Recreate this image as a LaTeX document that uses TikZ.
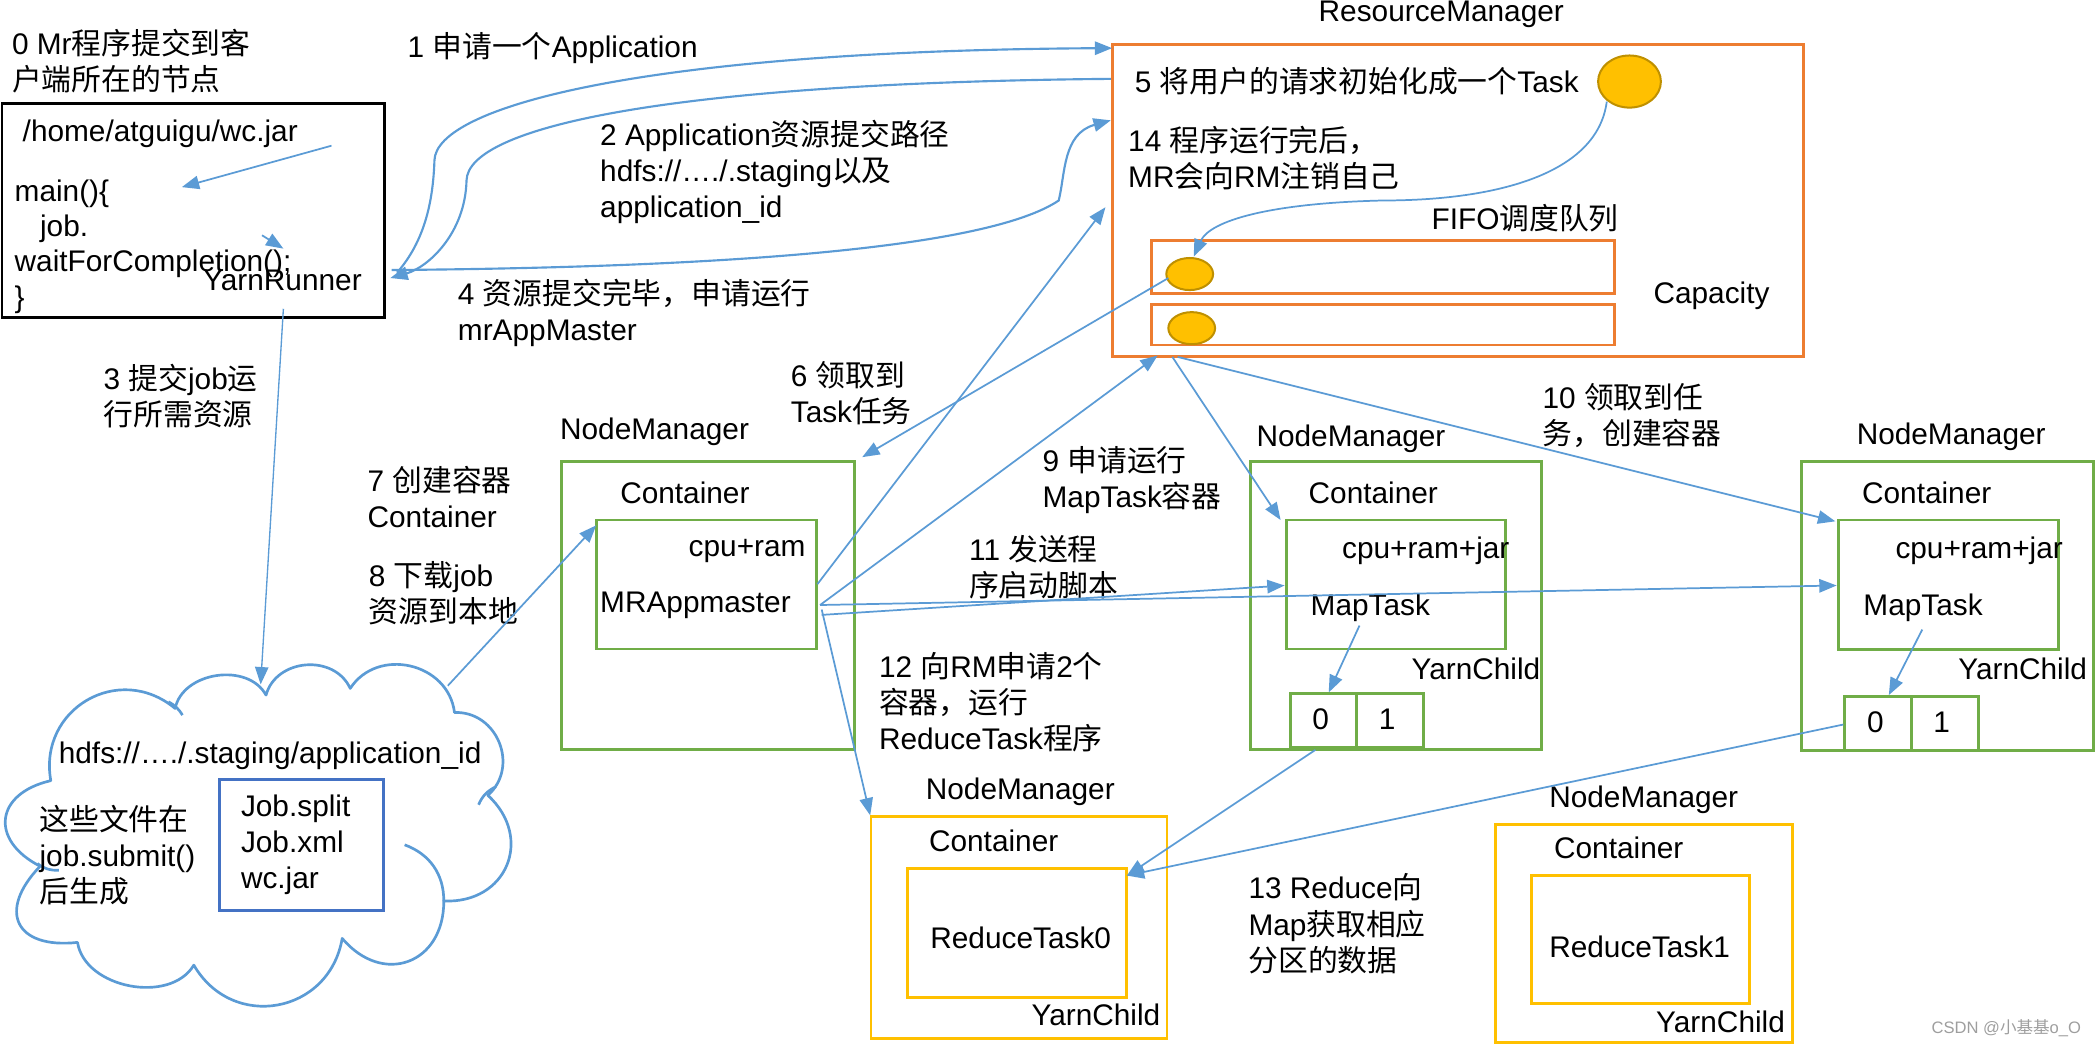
\documentclass[tikz,border=0pt]{standalone}
\usepackage{fontspec}
\setmainfont{Liberation Sans}
\newfontfamily\cjk{Noto Sans CJK SC}
\newcommand{\C}[1]{{\cjk #1}}
\usetikzlibrary{arrows.meta,shapes.geometric}
\definecolor{lblue}{HTML}{5B9BD5}
\definecolor{dblue}{HTML}{4472C4}
\definecolor{orng}{HTML}{ED7D31}
\definecolor{grn}{HTML}{70AD47}
\definecolor{ylw}{HTML}{FFC000}
\definecolor{gold}{HTML}{BF9000}
\begin{document}
\begin{tikzpicture}[x=1pt,y=-1pt,
  every node/.style={inner sep=0pt, outer sep=0pt},
  lbl/.style={anchor=west, align=left, font=\fontsize{22.3}{27}\selectfont},
  ctr/.style={font=\fontsize{22.3}{27}\selectfont},
  bx/.style={draw, anchor=north west, line width=2.2pt, inner sep=0pt},
  dot/.style={ellipse, draw=gold, fill=ylw, line width=1.5pt},
  arr/.style={draw=lblue, line width=1.3pt, -{Triangle[length=13pt,width=10pt]}},
  carr/.style={arr, line width=1.6pt},
  cloudline/.style={draw=lblue, line width=2pt, line join=round},
  puff/.style={bend left=70, looseness=#1}
]
\useasboundingbox (0,0) rectangle (1568,784);

% ---------- client ----------
\node[bx, draw=black, minimum width=286pt, minimum height=160pt] (client) at (1.5,77.5) {};
\node[lbl] (t0) at (9,45.5) {0 Mr\C{程序提交到客}\\\C{户端所在的节点}};
\node[lbl] (jar) at (17,100) {/home/atguigu/wc.jar};
\node[lbl] (mainl) at (11,145) {main()\{};
\node[lbl] (jobl) at (30,171) {job.};
\node[lbl] (waitl) at (11,197) {waitForCompletion();};
\node[lbl] (closel) at (11,224) {\}};
\node[lbl] (yr) at (152,210) {YarnRunner};

% ---------- resource manager ----------
\node[bx, draw=orng, minimum width=517pt, minimum height=234pt] (rm) at (832,33) {};
\node[lbl] (rml) at (986.5,11) {ResourceManager};
\node[lbl] (t5) at (849,61) {5 \C{将用户的请求初始化成一个}Task};
\node[dot, minimum width=47pt, minimum height=39pt] (task) at (1219,61) {};
\node[lbl] (t14) at (844,118.5) {14 \C{程序运行完后，}\\MR\C{会向}RM\C{注销自己}};
\node[lbl] (fifo) at (1071,163) {FIFO\C{调度队列}};
\node[bx, draw=orng, line width=2pt, minimum width=346.5pt, minimum height=39.5pt] (q1) at (861.5,180) {};
\node[bx, draw=orng, line width=2pt, minimum width=346.5pt, minimum height=30pt] (q2) at (861.5,228) {};
\node[dot, minimum width=35pt, minimum height=24pt] (d1) at (890,205) {};
\node[dot, minimum width=35pt, minimum height=24pt] (d2) at (891.5,245.5) {};
\node[lbl] (cap) at (1237,221) {Capacity};

% ---------- NodeManager 1 ----------
\node[lbl] (nm1l) at (419,323) {NodeManager};
\node[bx, draw=grn, minimum width=219pt, minimum height=216pt] (nm1) at (420,345) {};
\node[lbl] (c1l) at (464,369) {Container};
\node[bx, draw=grn, minimum width=164.5pt, minimum height=96.5pt] (am) at (446.5,389) {};
\node[ctr, anchor=east] (cr1) at (602.6,412) {cpu+ram};
\node[lbl] (mra) at (449,453) {MRAppmaster};

% ---------- NodeManager 2 ----------
\node[lbl] (nm2l) at (940,328) {NodeManager};
\node[bx, draw=grn, minimum width=217.5pt, minimum height=216pt] (nm2) at (935.5,345) {};
\node[lbl] (c2l) at (979,369) {Container};
\node[bx, draw=grn, minimum width=164pt, minimum height=96.5pt] (mt1) at (962.5,389) {};
\node[lbl] (cr2) at (1004,412) {cpu+ram+jar};
\node[lbl] (mt1l) at (980.5,455) {MapTask};
\node[lbl] (yc1) at (1056,500) {YarnChild};
\node[bx, draw=grn, minimum width=49.5pt, minimum height=40pt] (p10) at (965.5,519) {};
\node[bx, draw=grn, minimum width=50pt, minimum height=40pt] (p11) at (1015,519) {};
\node[ctr] (p10l) at (988,538) {0};
\node[ctr] (p11l) at (1037.7,538) {1};

% ---------- NodeManager 3 ----------
\node[lbl] (nm3l) at (1389,326.7) {NodeManager};
\node[bx, draw=grn, minimum width=218pt, minimum height=216pt] (nm3) at (1348,345.4) {};
\node[lbl] (c3l) at (1393,369) {Container};
\node[bx, draw=grn, minimum width=164.6pt, minimum height=97pt] (mt2) at (1375,389) {};
\node[lbl] (cr3) at (1418,412) {cpu+ram+jar};
\node[lbl] (mt2l) at (1394,455) {MapTask};
\node[lbl] (yc2) at (1465,500) {YarnChild};
\node[bx, draw=grn, minimum width=50pt, minimum height=41pt] (p20) at (1380,520.7) {};
\node[bx, draw=grn, minimum width=50pt, minimum height=41pt] (p21) at (1430,520.7) {};
\node[ctr] (p20l) at (1403,540) {0};
\node[ctr] (p21l) at (1452.6,540) {1};

% ---------- Reduce NodeManagers ----------
\node[lbl] (rn1l) at (692.6,592) {NodeManager};
\node[bx, draw=ylw, minimum width=221.4pt, minimum height=166pt] (rn1) at (651.6,611) {};
\node[lbl] (rc1l) at (695,629) {Container};
\node[bx, draw=ylw, minimum width=163.8pt, minimum height=96.6pt] (rt0) at (678.6,649.4) {};
\node[lbl] (rt0l) at (696,701.7) {ReduceTask0};
\node[ctr, anchor=east] (yc3) at (868,759) {YarnChild};

\node[lbl] (rn2l) at (1159,598) {NodeManager};
\node[bx, draw=ylw, minimum width=222pt, minimum height=163pt] (rn2) at (1119,617) {};
\node[lbl] (rc2l) at (1162.6,634) {Container};
\node[bx, draw=ylw, minimum width=163.5pt, minimum height=96pt] (rt1) at (1145.5,655) {};
\node[lbl] (rt1l) at (1159,708) {ReduceTask1};
\node[lbl] (yc4) at (1239,764.6) {YarnChild};

% ---------- cloud (HDFS staging area) ----------
\coordinate (cloud) at (194,625);
\draw[cloudline] (38,584) to[puff=1.3] (131,530) to[puff=1.05] (199,520)
  to[puff=1.16] (262,515) to[puff=1.2] (340,533) to[puff=1.23] (365,595)
  to[puff=1.41] (332,674) to[puff=1.49] (256,702) to[puff=1.3] (145,722)
  to[puff=1.0] (58,705) to[puff=1.88] (30,648) to[puff=1.7] cycle;
\draw[cloudline] (302.7,632) to[bend left=35] (332,674);
\draw[cloudline] (358,602) to[bend left=20] (371,588.5);
\draw[cloudline] (28,646) to[bend right=20] (44,651);
\draw[cloudline] (126,525) to[bend left=15] (136.5,535);
\node[lbl] (hdfs) at (44,565.5) {hdfs://…./.staging/application\_id};
\node[lbl] (files) at (29.6,640) {\C{这些文件在}\\job.submit()\\\C{后生成}};
\node[bx, draw=dblue, minimum width=122.6pt, minimum height=98pt] (jobbox) at (164,583) {};
\node[lbl] (jobs) at (180.3,632) {Job.split\\Job.xml\\wc.jar};

% ---------- step labels ----------
\node[lbl] (t1) at (305,36) {1 \C{申请一个}Application};
\node[lbl] (t2) at (449,128.4) {2 Application\C{资源提交路径}\\hdfs://…./.staging\C{以及}\\application\_id};
\node[lbl] (t4) at (342.6,234.4) {4 \C{资源提交完毕，申请运行}\\mrAppMaster};
\node[lbl] (t3) at (77.5,296) {3 \C{提交}job\C{运}\\\C{行所需资源}};
\node[lbl] (t6) at (591.6,294.3) {6 \C{领取到}\\Task\C{任务}};
\node[lbl] (t7) at (275,372) {7 \C{创建容器}\\Container};
\node[lbl] (t8) at (276,444) {8 \C{下载}job\\\C{资源到本地}};
\node[lbl] (t9) at (780,359) {9 \C{申请运行}\\MapTask\C{容器}};
\node[lbl] (t10) at (1154,311) {10 \C{领取到任}\\\C{务，创建容器}};
\node[lbl] (t11) at (725,424.3) {11 \C{发送程}\\\C{序启动脚本}};
\node[lbl] (t12) at (657.6,525) {12 \C{向}RM\C{申请}2\C{个}\\\C{容器，运行}\\ReduceTask\C{程序}};
\node[lbl] (t13) at (934,691) {13 Reduce\C{向}\\Map\C{获取相应}\\\C{分区的数据}};
\node[anchor=west, font=\fontsize{12.4}{14}\selectfont, text=black!38] (wm) at (1445,769) {CSDN @\C{小基基}o\_O};

% ---------- connector end points ----------
\coordinate (ia1) at (248,109);  \coordinate (ia2) at (136,140);
\coordinate (sa1) at (196,176);  \coordinate (sa2) at (212,186);
\coordinate (a3s) at (212,231);  \coordinate (a3e) at (195,512);
\coordinate (a1s) at (297,204);  \coordinate (a1e) at (832,36);
\coordinate (a2s) at (831,59);   \coordinate (a2e) at (292,208);
\coordinate (a4s) at (293,202);  \coordinate (a4e) at (831,90);
\coordinate (a5s) at (1202,76);  \coordinate (a5e) at (893,192);
\coordinate (a6s) at (874,208);  \coordinate (a6e) at (645,342);
\coordinate (m1) at (611.5,437); \coordinate (a14e) at (827,155);
\coordinate (m2) at (613.5,452.6); \coordinate (a9e) at (866,266);
\coordinate (m3) at (614.7,460); \coordinate (m4) at (614.7,456);
\coordinate (r1) at (877,267);   \coordinate (r2) at (881,267);
\coordinate (n2e) at (958,389);  \coordinate (a10e) at (1373,390);
\coordinate (a11a) at (961,438); \coordinate (a11b) at (1374,438);
\coordinate (a12e) at (651,610);
\coordinate (a8s) at (335,513);  \coordinate (a8e) at (446,393);
\coordinate (k1s) at (1017,468); \coordinate (k1e) at (994,518);
\coordinate (k2s) at (1438,471); \coordinate (k2e) at (1413,520);
\coordinate (s1) at (984,561);   \coordinate (s2) at (1379,542);
\coordinate (a13e) at (843,655);

% ---------- connectors ----------
\draw[arr] (ia1) -- (ia2);
\draw[arr] (sa1) -- (sa2);
\draw[arr, line width=1pt] (a3s) -- (a3e);
\draw[carr] (a1s) .. controls (318,180) and (324,150) .. (325,120)
                  .. controls (326,80) and (480,38) .. (a1e);
\draw[carr] (a2s) .. controls (500,62) and (350,95) .. (349,135)
                  .. controls (348,175) and (320,200) .. (a2e);
\draw[carr] (a4s) .. controls (550,200) and (740,185) .. (792,150)
                  .. controls (797,130) and (795,100) .. (a4e);
\draw[arr] (a5s) .. controls (1195,130) and (1120,150) .. (1034,150)
                 .. controls (950,152) and (905,165) .. (a5e);
\draw[arr] (a6s) -- (a6e);
\draw[arr] (m1) -- (a14e);
\draw[arr] (m2) -- (a9e);
\draw[arr] (r1) -- (n2e);
\draw[arr] (r2) -- (a10e);
\draw[arr] (m3) -- (a11a);
\draw[arr] (m2) -- (a11b);
\draw[arr] (m4) -- (a12e);
\draw[arr] (a8s) -- (a8e);
\draw[arr] (k1s) -- (k1e);
\draw[arr] (k2s) -- (k2e);
\draw[arr] (s1) -- (a13e);
\draw[arr] (s2) -- (a13e);
\end{tikzpicture}
\end{document}
